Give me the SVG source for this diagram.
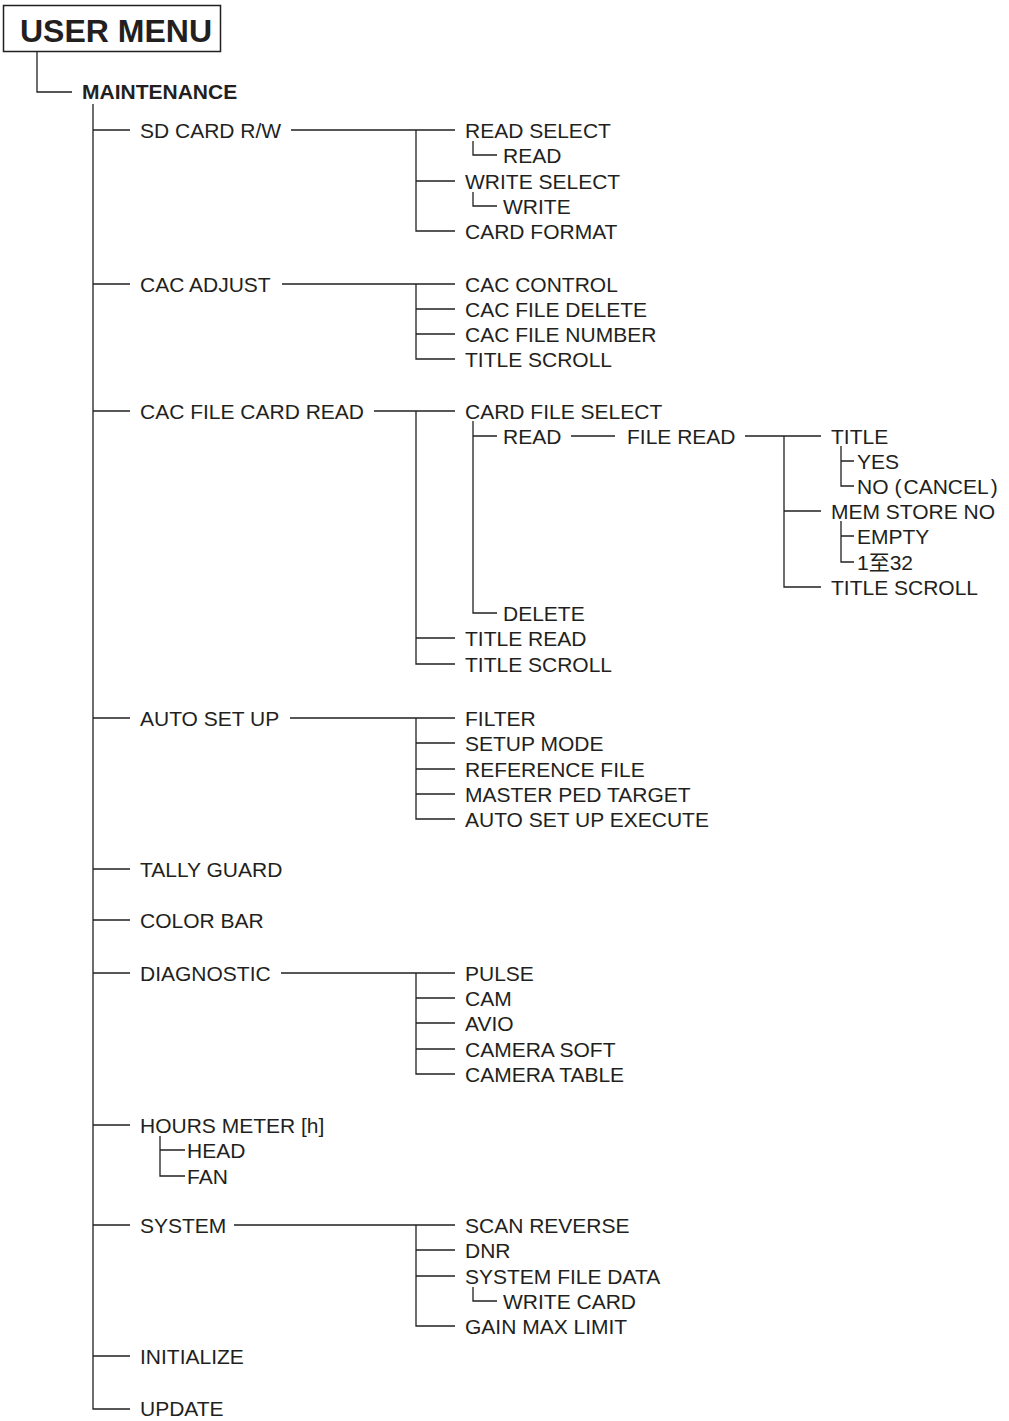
<svg xmlns="http://www.w3.org/2000/svg" width="1009" height="1421" viewBox="0 0 1009 1421">
<style>
text{font-family:"Liberation Sans","Noto Sans CJK SC",Arial,sans-serif;font-size:21px;fill:#231f20}
.b{font-weight:bold}
.t{font-size:32px;font-weight:bold}
.c path{fill:none;stroke:#231f20;stroke-width:1.3}
</style>
<rect width="1009" height="1421" fill="#fff"/>
<g class="c" id="connectors">
<path d="M37 52V92H72"/>
<path d="M93 104V1409H130"/>
<path d="M93 130H130M93 284H130M93 411H130M93 718H130M93 869H130M93 920H130M93 973H130M93 1125H130M93 1225H130M93 1356H130"/>
<path d="M291 130H455M416 130V231H455M416 181H455M473 141V155H497M473 192V206H497"/>
<path d="M282 284H455M416 284V359H455M416 309H455M416 334H455"/>
<path d="M374 411H455M416 411V664H455M416 638H455M473 421V613H497M473 436H497M571 436H615M745 436H821M784 436V587H821M784 511H821M841 446V486H854M841 461H854M841 521V562H854M841 536H854"/>
<path d="M290 718H455M416 718V819H455M416 743H455M416 769H455M416 794H455"/>
<path d="M281 973H455M416 973V1074H455M416 998H455M416 1023H455M416 1049H455"/>
<path d="M160 1136V1176H185M160 1150H185"/>
<path d="M234 1225H455M416 1225V1326H455M416 1250H455M416 1276H455M473 1287V1301H497"/>
</g>
<g id="user-menu"><rect x="3.5" y="5.5" width="217" height="46" fill="none" stroke="#231f20" stroke-width="1.5"/><text class="t" x="20" y="42">USER MENU</text></g>
<g id="maintenance"><text class="b" x="82" y="99">MAINTENANCE</text></g>
<g id="sd-card"><text x="140" y="137.5">SD CARD R/W</text>
<text x="465" y="137.5">READ SELECT</text><text x="503" y="162.5">READ</text>
<text x="465" y="188.5">WRITE SELECT</text><text x="503" y="213.5">WRITE</text>
<text x="465" y="238.5">CARD FORMAT</text></g>
<g id="cac-adjust"><text x="140" y="291.5">CAC ADJUST</text>
<text x="465" y="291.5">CAC CONTROL</text><text x="465" y="316.5">CAC FILE DELETE</text>
<text x="465" y="341.5">CAC FILE NUMBER</text><text x="465" y="366.5">TITLE SCROLL</text></g>
<g id="cac-file-card-read"><text x="140" y="418.5">CAC FILE CARD READ</text>
<text x="465" y="418.5">CARD FILE SELECT</text>
<text x="503" y="443.5">READ</text><text x="627" y="443.5">FILE READ</text>
<text x="831" y="443.5">TITLE</text><text x="857" y="468.5">YES</text><text x="857" y="493.5">NO<tspan dx="6">(</tspan><tspan dx="2">CANCEL</tspan><tspan dx="2">)</tspan></text>
<text x="831" y="518.5">MEM STORE NO</text><text x="857" y="543.5">EMPTY</text><text x="857" y="569.5">1至32</text>
<text x="831" y="594.5">TITLE SCROLL</text>
<text x="503" y="620.5">DELETE</text>
<text x="465" y="645.5">TITLE READ</text><text x="465" y="671.5">TITLE SCROLL</text></g>
<g id="auto-set-up"><text x="140" y="725.5">AUTO SET UP</text>
<text x="465" y="725.5">FILTER</text><text x="465" y="750.5">SETUP MODE</text>
<text x="465" y="776.5">REFERENCE FILE</text><text x="465" y="801.5">MASTER PED TARGET</text>
<text x="465" y="826.5">AUTO SET UP EXECUTE</text></g>
<g id="tally-guard"><text x="140" y="876.5">TALLY GUARD</text></g>
<g id="color-bar"><text x="140" y="927.5">COLOR BAR</text></g>
<g id="diagnostic"><text x="140" y="980.5">DIAGNOSTIC</text>
<text x="465" y="980.5">PULSE</text><text x="465" y="1005.5">CAM</text><text x="465" y="1030.5">AVIO</text>
<text x="465" y="1056.5">CAMERA SOFT</text><text x="465" y="1081.5">CAMERA TABLE</text></g>
<g id="hours-meter"><text x="140" y="1132.5">HOURS METER [h]</text>
<text x="187" y="1157.5">HEAD</text><text x="187" y="1183.5">FAN</text></g>
<g id="system"><text x="140" y="1232.5">SYSTEM</text>
<text x="465" y="1232.5">SCAN REVERSE</text><text x="465" y="1257.5">DNR</text>
<text x="465" y="1283.5">SYSTEM FILE DATA</text><text x="503" y="1308.5">WRITE CARD</text>
<text x="465" y="1333.5">GAIN MAX LIMIT</text></g>
<g id="initialize"><text x="140" y="1363.5">INITIALIZE</text></g>
<g id="update"><text x="140" y="1416">UPDATE</text></g>
</svg>
